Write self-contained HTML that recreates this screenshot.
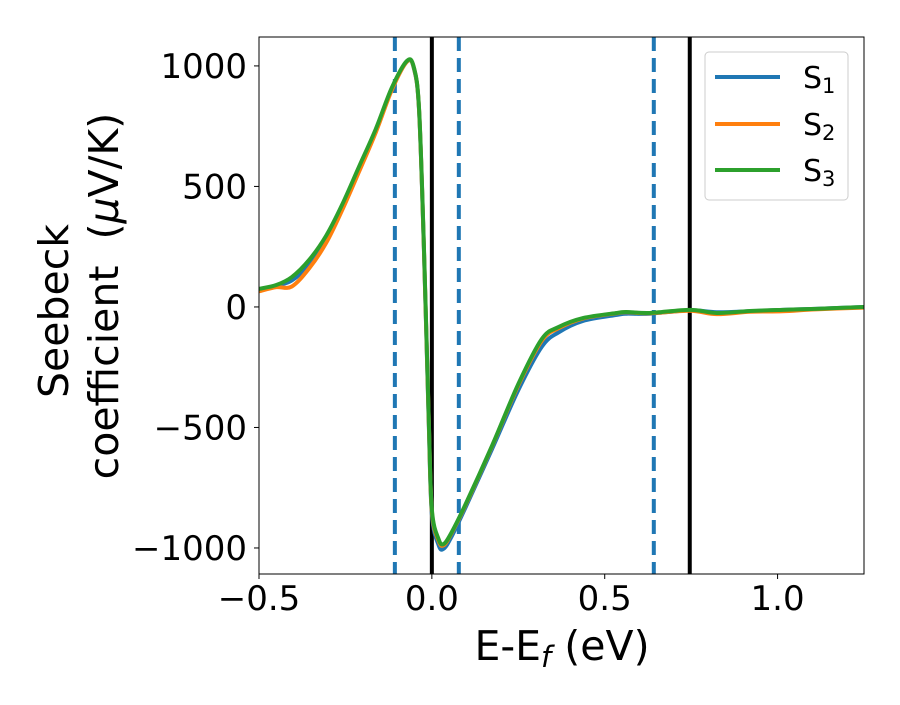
<!DOCTYPE html>
<html><head><meta charset="utf-8"><style>
body{margin:0;background:#fff;}
svg text{font-family:"DejaVu Sans","Liberation Sans",sans-serif;fill:#000;}
</style></head><body>
<svg id="chart" width="900" height="700" xmlns="http://www.w3.org/2000/svg">
<g id="plot"></g>
</svg>
<script>
const energies=[-0.5,-0.45,-0.405,-0.355,-0.306,-0.26,-0.211,-0.162,-0.116,-0.072,-0.052,-0.037,-0.023,-0.009,0.0,0.02,0.035,0.058,0.098,0.174,0.25,0.318,0.367,0.437,0.535,0.563,0.63,0.746,0.824,0.92,1.015,1.11,1.25];
const s3Values=[75,91,124,195,295,423,581,739,909,1021,994,822,253,-461,-840,-965,-983,-933,-817,-576,-320,-133,-83,-46,-25,-21,-25,-12,-25,-17,-12,-8,0];
const s1Values=[70,88,110,175,275,405,565,728,902,1018,990,815,240,-480,-860,-990,-1002,-950,-830,-590,-345,-165,-105,-58,-33,-28,-28,-14,-22,-18,-12,-8,0];
const s2Values=[65,82,85,160,265,400,560,725,900,1018,992,818,245,-470,-848,-972,-988,-936,-820,-578,-325,-140,-88,-48,-26,-22,-26,-16,-30,-20,-18,-10,-3];
const xTicks=[-0.5,0.0,0.5,1.0];
const xTickLabels=["\u22120.5","0.0","0.5","1.0"];
const yTicks=[1000,500,0,-500,-1000];
const yTickLabels=["1000","500","0","\u2212500","\u22121000"];
const dashedLines=[-0.107,0.078,0.642];
const solidLines=[0.0,0.746];
const seriesNames=["S1","S2","S3"];
const seriesColors=["#1f77b4","#ff7f0e","#2ca02c"];

const L=259,R=864,T=37,B=574;
const xMin=-0.5,xMax=1.25,yMin=-1108,yMax=1120;
const xs=v=>L+(v-xMin)/(xMax-xMin)*(R-L);
const ys=v=>T+(yMax-v)/(yMax-yMin)*(B-T);
const NS="http://www.w3.org/2000/svg";
const g=document.getElementById('plot');
function mk(tag,attrs,parent){const e=document.createElementNS(NS,tag);for(const k in attrs)e.setAttribute(k,attrs[k]);(parent||g).appendChild(e);return e;}

const clip=mk('clipPath',{id:'pc'});mk('rect',{x:L,y:T,width:R-L,height:B-T},clip);

dashedLines.forEach((v,i)=>{const l=mk('line',{x1:xs(v),x2:xs(v),y1:T,y2:B,stroke:'#1f77b4','stroke-width':4,'stroke-dasharray':'14 7'});

});
solidLines.forEach((v,i)=>{const l=mk('line',{x1:xs(v),x2:xs(v),y1:T,y2:B,stroke:'#000','stroke-width':4});

});

function smoothPath(xv,yv){const p=xv.map((x,i)=>[xs(x),ys(yv[i])]);let d='M'+p[0][0]+','+p[0][1];
for(let i=0;i<p.length-1;i++){const p0=p[i-1]||p[i],p1=p[i],p2=p[i+1],p3=p[i+2]||p2;
const c1=[p1[0]+(p2[0]-p0[0])/6,p1[1]+(p2[1]-p0[1])/6],c2=[p2[0]-(p3[0]-p1[0])/6,p2[1]-(p3[1]-p1[1])/6];
d+=' C'+c1[0]+','+c1[1]+' '+c2[0]+','+c2[1]+' '+p2[0]+','+p2[1];}return d;}
[s1Values,s2Values,s3Values].forEach((vals,i)=>{const p=mk('path',{d:smoothPath(energies,vals),fill:'none',stroke:seriesColors[i],'stroke-width':4,'clip-path':'url(#pc)','stroke-linejoin':'round'});

});

const frame=mk('rect',{x:L,y:T,width:R-L,height:B-T,fill:'none',stroke:'#000','stroke-width':1});



xTicks.forEach((v,i)=>{mk('line',{x1:xs(v),x2:xs(v),y1:B,y2:B+5,stroke:'#000'});
const t=mk('text',{x:xs(v),y:B+36,'text-anchor':'middle','font-size':34});t.textContent=xTickLabels[i];

});
yTicks.forEach((v,i)=>{mk('line',{x1:L-5,x2:L,y1:ys(v),y2:ys(v),stroke:'#000'});
const t=mk('text',{x:L-12,y:ys(v)+12,'text-anchor':'end','font-size':34});t.textContent=yTickLabels[i];

});
</script>
<svg width="900" height="700" style="position:absolute;left:0;top:0" xmlns="http://www.w3.org/2000/svg">
<text x="562" y="660" text-anchor="middle" font-size="41" font-family="DejaVu Sans, sans-serif">E-E<tspan font-style="italic" font-size="29" dy="7">f</tspan><tspan dy="-7"> (eV)</tspan></text>
<g transform="rotate(-90)">
<text x="-311" y="68" text-anchor="middle" font-size="41" font-family="DejaVu Sans, sans-serif">Seebeck</text>
<text x="-296" y="118" text-anchor="middle" font-size="41" font-family="DejaVu Sans, sans-serif" xml:space="preserve">coefficient  (<tspan font-style="italic">μ</tspan>V/K)</text>
</g>
<g>
<rect x="705" y="52" width="143" height="148" rx="4" fill="#fff" stroke="#ccc" stroke-width="1"/>
<line x1="715" x2="780" y1="77" y2="77" stroke="#1f77b4" stroke-width="4"/>
<text x="803" y="88" font-size="30" font-family="DejaVu Sans, sans-serif">S<tspan font-size="21" dy="5">1</tspan></text>
<line x1="715" x2="780" y1="124" y2="124" stroke="#ff7f0e" stroke-width="4"/>
<text x="803" y="135" font-size="30" font-family="DejaVu Sans, sans-serif">S<tspan font-size="21" dy="5">2</tspan></text>
<line x1="715" x2="780" y1="170" y2="170" stroke="#2ca02c" stroke-width="4"/>
<text x="803" y="181" font-size="30" font-family="DejaVu Sans, sans-serif">S<tspan font-size="21" dy="5">3</tspan></text>
</g>
</svg>
</body></html>
